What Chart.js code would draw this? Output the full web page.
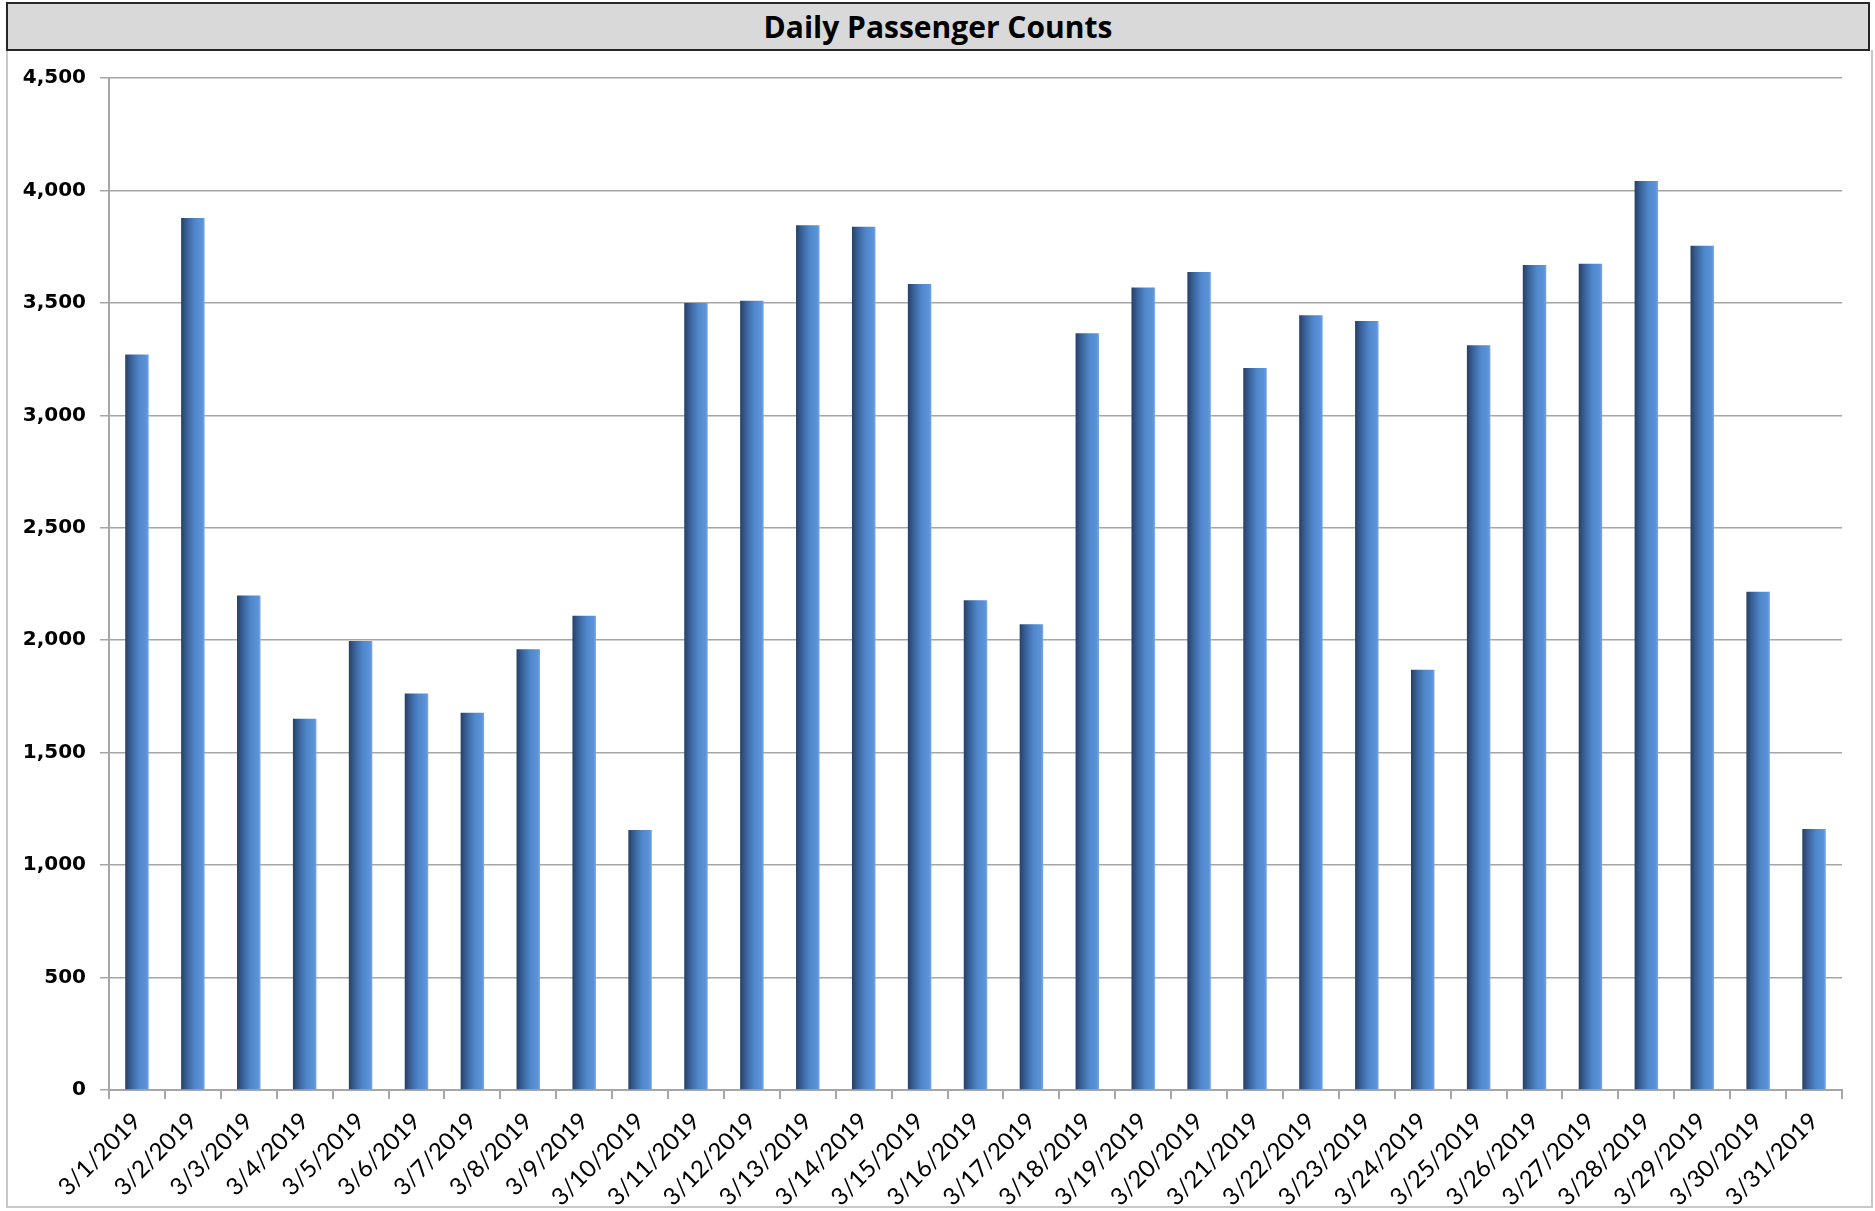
<!DOCTYPE html>
<html>
<head>
<meta charset="utf-8">
<script src="https://cdn.jsdelivr.net/npm/chart.js@4/dist/chart.umd.min.js"></script>
<style>
  body { margin: 0; background: #fff; }
  #title {
    position: absolute; left: 6px; top: 2px; width: 1860px; height: 45px;
    background: #d9d9d9; border: 2px solid #262626;
    font: bold 30px "Open Sans", sans-serif; color: #000;
    text-align: center; line-height: 45px;
  }
  #frame {
    position: absolute; left: 6px; top: 50px; width: 1863px; height: 1156px;
    border: 2px solid #c8c8c8; border-top: none;
  }
  #myChart { position: absolute; left: 0; top: 0; }
</style>
</head>
<body>
<div id="frame"></div>
<div id="title">Daily Passenger Counts</div>
<canvas id="myChart" width="1875" height="1211"></canvas>
<script>
var days = ['3/1/2019', '3/2/2019', '3/3/2019', '3/4/2019', '3/5/2019', '3/6/2019', '3/7/2019',
  '3/8/2019', '3/9/2019', '3/10/2019', '3/11/2019', '3/12/2019', '3/13/2019', '3/14/2019',
  '3/15/2019', '3/16/2019', '3/17/2019', '3/18/2019', '3/19/2019', '3/20/2019', '3/21/2019',
  '3/22/2019', '3/23/2019', '3/24/2019', '3/25/2019', '3/26/2019', '3/27/2019', '3/28/2019',
  '3/29/2019', '3/30/2019', '3/31/2019'];
var passengers = [3270, 3877, 2199, 1651, 1997, 1763, 1677, 1960, 2109, 1156, 3499,
  3509, 3845, 3839, 3584, 2178, 2071, 3365, 3568, 3637, 3211, 3445, 3419, 1869,
  3312, 3669, 3674, 4042, 3754, 2215, 1161];
var yTicks = [0, 500, 1000, 1500, 2000, 2500, 3000, 3500, 4000, 4500];

var barPct = 0.42;

// horizontal shading on each bar, dark on the left, light on the right
function barFill(context) {
  const chart = context.chart;
  const xs = chart.scales.x;
  if (!chart.chartArea || !xs) return '#4f81bd';
  const slot = xs.width / days.length;
  const cx = xs.getPixelForValue(context.dataIndex);
  const half = slot * barPct / 2;
  const g = chart.ctx.createLinearGradient(cx - half, 0, cx + half, 0);
  g.addColorStop(0, '#263f66');
  g.addColorStop(0.25, '#3a6299');
  g.addColorStop(0.6, '#5088cc');
  g.addColorStop(0.9, '#5b92da');
  g.addColorStop(1, '#79a8e4');
  return g;
}

const ctx = document.getElementById('myChart');
new Chart(ctx, {
  type: 'bar',
  data: {
    labels: days,
    datasets: [
      {
        label: 'Passengers',
        data: passengers,
        backgroundColor: barFill,
        borderWidth: 0,
        barPercentage: barPct,
        categoryPercentage: 1,
      },
    ],
  },
  options: {
    responsive: false,
    animation: false,
    devicePixelRatio: 1,
    layout: { padding: { left: 9, right: 33, top: 78, bottom: 0 } },
    plugins: { legend: { display: false }, title: { display: false }, tooltip: { enabled: false } },
    scales: {
      x: {
        afterFit: (s) => { s.height = 121; },
        border: { color: '#a6a6a6', width: 2 },
        grid: { drawOnChartArea: false, drawTicks: true, tickLength: 9, color: '#a6a6a6', lineWidth: 2, offset: true },
        ticks: {
          minRotation: 45, maxRotation: 45, autoSkip: false, padding: 8,
          color: '#000', font: { family: 'Lato', size: 24 },
        },
      },
      y: {
        min: 0, max: 4500,
        afterFit: (s) => { s.width = 100; },
        afterBuildTicks: (s) => { s.ticks = yTicks.map((v) => ({ value: v })); },
        border: { color: '#a6a6a6', width: 2 },
        grid: { color: '#a6a6a6', lineWidth: 1.5, tickLength: 9 },
        ticks: {
          padding: 14, color: '#000',
          font: { family: 'DejaVu Sans', size: 20, weight: 'bold' },
          callback: (v) => v.toLocaleString('en-US'),
        },
      },
    },
  },
});
</script>
</body>
</html>
